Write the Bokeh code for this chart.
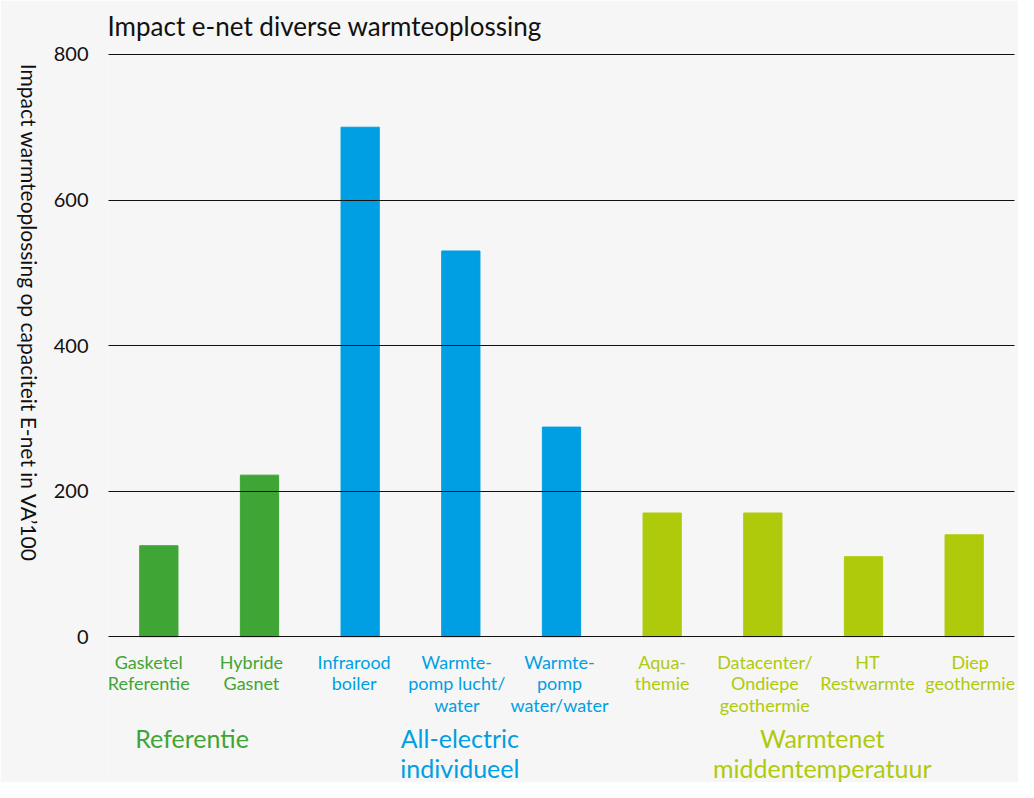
import math
from bokeh.plotting import figure
from bokeh.models import ColumnDataSource, FixedTicker, Range1d, FactorRange
from bokeh.core.properties import value
from bokeh.embed import file_html
from bokeh.resources import INLINE

# ---- data ----
categories = ["Gasketel Referentie", "Hybride Gasnet", "Infrarood boiler",
              "Warmtepomp lucht/water", "Warmtepomp water/water", "Aquathemie",
              "Datacenter/Ondiepe geothermie", "HT Restwarmte", "Diep geothermie"]
cat_labels = ["Gasketel\nReferentie", "Hybride\nGasnet", "Infrarood\nboiler",
              "Warmte-\npomp lucht/\nwater", "Warmte-\npomp\nwater/water", "Aqua-\nthemie",
              "Datacenter/\nOndiepe\ngeothermie", "HT\nRestwarmte", "Diep\ngeothermie"]
values = [125, 222, 700, 530, 288, 170, 170, 110, 140]
groups = ["ref", "ref", "ae", "ae", "ae", "wn", "wn", "wn", "wn"]
group_keys = ["ref", "ae", "wn"]
group_names = ["Referentie", "All-electric\nindividueel", "Warmtenet\nmiddentemperatuur"]
y_ticks = [0, 200, 400, 600, 800]

title_text = "Impact e-net diverse warmteoplossing"
y_label = "Impact warmteoplossing op capaciteit E-net in VA\u2019100"

# ---- styles / layout ----
group_colors = {"ref": "#3fa535", "ae": "#009fe3", "wn": "#afca0b"}
FONT = "Lato"
BG = "#f6f6f6"
group_x = [0.83, 3.49, 7.09]
label_x = [0.40 + 1.02 * i for i in range(len(categories))]
Y_LABEL_PAD = "\u2003" * 14   # em spaces: shifts the bottom-anchored label upwards

bar_colors = [group_colors[g] for g in groups]

p = figure(width=1018, height=782, output_backend="svg", toolbar_location=None,
           x_range=FactorRange(*categories, range_padding=0),
           y_range=Range1d(-200.3, 802.7),
           min_border_left=108, min_border_right=4, min_border_top=51,
           min_border_bottom=0, tools="")

p.background_fill_color = BG
p.border_fill_color = BG
p.outline_line_color = None

p.title.text = title_text
p.title.text_font = FONT
p.title.text_font_size = "26px"
p.title.text_font_style = "normal"
p.title.text_color = "#111111"
p.title.align = "left"
p.title.vertical_align = "top"
p.title.offset = -1
p.title.standoff = 18

src = ColumnDataSource(dict(cat=categories, val=values, color=bar_colors))
p.vbar(x="cat", top="val", width=0.38, color="color", source=src)

p.xaxis.visible = False
p.xgrid.visible = False
p.yaxis.ticker = FixedTicker(ticks=y_ticks)
p.ygrid.ticker = FixedTicker(ticks=y_ticks)
p.ygrid.grid_line_color = "#111111"
p.ygrid.grid_line_width = 1.2
p.ygrid.level = "overlay"
p.yaxis.axis_line_color = None
p.yaxis.major_tick_line_color = None
p.yaxis.minor_tick_line_color = None
p.yaxis.major_tick_out = 0
p.yaxis.major_label_standoff = 20
p.yaxis.major_label_text_font = FONT
p.yaxis.major_label_text_font_size = "20px"
p.yaxis.major_label_text_color = "#111111"

# category labels
lab_src = ColumnDataSource(dict(x=label_x, y=[-19] * len(categories), text=cat_labels,
                                color=bar_colors))
p.text(x="x", y="y", text="text", source=lab_src, text_color="color",
       text_font=value(FONT), text_font_size="18px", text_align="center",
       text_baseline="top", text_line_height=0.98)

# group labels
grp_src = ColumnDataSource(dict(x=group_x, y=[-119] * 3, text=group_names,
                                color=[group_colors[k] for k in group_keys]))
p.text(x="x", y="y", text="text", source=grp_src, text_color="color",
       text_font=value(FONT), text_font_size="25px", text_align="center",
       text_baseline="top", text_line_height=1.0)

# y-axis label reading top to bottom
ax = p.yaxis[0]
ax.axis_label = y_label + Y_LABEL_PAD
ax.axis_label_orientation = -math.pi / 2
ax.axis_label_align = "start"
ax.axis_label_text_font = FONT
ax.axis_label_text_font_size = "21px"
ax.axis_label_text_font_style = "normal"
ax.axis_label_text_color = "#111111"
ax.axis_label_standoff = 21

open("out.html", "w").write(file_html(p, INLINE))
